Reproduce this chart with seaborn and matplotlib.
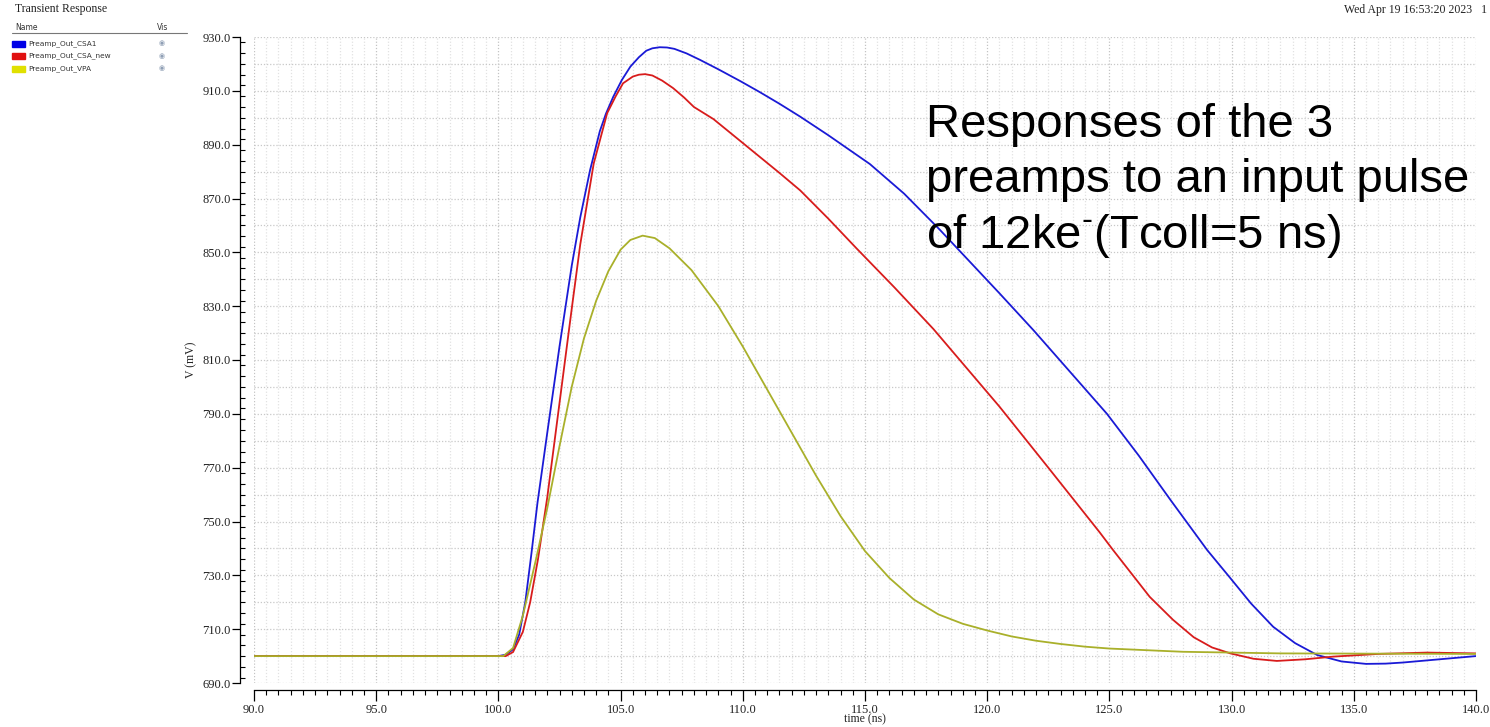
import numpy as np
import pandas as pd
import matplotlib
matplotlib.use("Agg")
import matplotlib.pyplot as plt
from matplotlib.ticker import MultipleLocator, FormatStrFormatter
from matplotlib.patches import Rectangle
import seaborn as sns

# ---------------- data ----------------
series_names = ["Preamp_Out_CSA1", "Preamp_Out_CSA_new", "Preamp_Out_VPA"]

t_csa1 = [90, 100.0, 100.3, 100.6, 100.85, 101.1, 101.35, 101.6, 102.0, 102.5, 103.0,
          103.35, 103.75, 104.15, 104.4, 104.7, 105.05, 105.4, 105.75, 106.05, 106.3,
          106.6, 106.9, 107.2, 107.7, 108.25, 109.0, 109.9, 110.7, 111.5, 112.35,
          113.5, 115.2, 116.6, 118.05, 120.5, 121.9, 123.4, 124.9, 126.2, 127.5, 129.0,
          129.9, 130.8, 131.7, 132.6, 133.5, 134.5, 135.5, 136.3, 137.0, 138.5, 140.0]
v_csa1 = [700, 700, 700.5, 702.5, 708, 720, 738, 757, 783, 815, 845,
          863, 880.5, 895, 901.5, 907.8, 914, 919, 922.5, 924.9, 925.8,
          926.2, 926.1, 925.6, 923.9, 921.5, 918.0, 913.6, 909.5, 905.2, 900.4,
          893.5, 882.8, 871.8, 858.5, 834.8, 821, 805.5, 790, 774.5, 758, 739.4,
          729.5, 719.5, 710.9, 704.8, 700.4, 698, 697.1, 697.2, 697.6, 698.8, 700]

t_csa_new = [90, 100.3, 100.6, 101.0, 101.3, 101.62, 102.0, 102.5, 103.0, 103.35, 103.9,
             104.45, 104.8, 105.1, 105.5, 105.75, 106.0, 106.3, 106.7, 107.15, 107.6,
             108.0, 108.8, 110.15, 111.5, 112.35, 113.5, 114.65, 116.2, 117.8, 120.5,
             122.5, 124.6, 125.15, 126.65, 127.6, 128.45, 129.2, 129.95, 130.9, 131.85,
             133.0, 134.15, 136.0, 138.0, 140.0]
v_csa_new = [700, 700, 701.5, 709, 720, 736, 759, 794, 829, 853, 883,
             901.7, 908, 912.8, 915.3, 916, 916.2, 915.7, 913.8, 911, 907.5,
             904, 899.5, 889.5, 879.5, 873, 862.5, 851.5, 837, 821.5, 792.7,
             770, 746, 739.4, 722, 713.5, 707, 703.2, 701, 699, 698.2,
             698.8, 699.8, 700.8, 701.3, 701]

t_vpa = [90, 100.2, 100.6, 101.0, 101.54, 102.0, 102.5, 103.0, 103.5, 104.0, 104.5,
         105.0, 105.4, 105.9, 106.4, 107.0, 107.9, 109, 110, 111, 112, 113, 114, 115,
         116, 117, 118, 119, 120, 121, 122, 123, 124, 125, 128, 132, 136, 140]
v_vpa = [700, 700, 703, 715, 736, 755, 778, 800, 818, 832, 843,
         851, 854.6, 856.2, 855.3, 851.5, 843.4, 830, 815, 799, 783, 767, 752, 739,
         729, 721, 715.5, 712, 709.5, 707.3, 705.7, 704.5, 703.5, 702.8, 701.6, 701,
         700.9, 700.8]

line_colors = ["#1a1ad6", "#d81c1c", "#a9b02a"]
swatch_colors = ["#0000e6", "#e01010", "#e0e000"]

x_ticks = [90.0, 95.0, 100.0, 105.0, 110.0, 115.0, 120.0, 125.0, 130.0, 135.0, 140.0]
y_ticks = [690.0, 710.0, 730.0, 750.0, 770.0, 790.0, 810.0, 830.0, 850.0, 870.0, 890.0, 910.0, 930.0]

df = pd.concat([
    pd.DataFrame({"time": t_csa1, "V": v_csa1, "signal": series_names[0]}),
    pd.DataFrame({"time": t_csa_new, "V": v_csa_new, "signal": series_names[1]}),
    pd.DataFrame({"time": t_vpa, "V": v_vpa, "signal": series_names[2]}),
])

# ---------------- figure ----------------
sns.set_theme(style="white")
plt.rcParams["font.family"] = ["Liberation Serif", "DejaVu Serif"]
plt.rcParams["mathtext.fontset"] = "custom"
plt.rcParams["mathtext.rm"] = "Liberation Sans"
plt.rcParams["mathtext.sf"] = "Liberation Sans"

W, H = 1490, 727
fig = plt.figure(figsize=(W / 100, H / 100), dpi=100)
fig.patch.set_facecolor("white")

L, R, T, B = 254, 1476, 37, 683
ax = fig.add_axes([L / W, 1 - B / H, (R - L) / W, (B - T) / H])
ax.set_facecolor("white")

ax.set_xlim(90, 140)
ax.set_ylim(690, 930)
ax.xaxis.set_minor_locator(MultipleLocator(0.5))
ax.yaxis.set_minor_locator(MultipleLocator(4))
ax.set_xticks(x_ticks)
ax.set_yticks(y_ticks)
ax.xaxis.set_major_formatter(FormatStrFormatter("%.1f"))
ax.yaxis.set_major_formatter(FormatStrFormatter("%.1f"))

# dotted grid
ax.grid(False)
for xv in np.arange(90, 140.01, 0.5):
    major = abs(xv / 5 - round(xv / 5)) < 1e-9
    ax.axvline(xv, color="#c4c4c4" if major else "#e2e2e2", lw=0.9, ls=(0, (1, 1.5)), zorder=0)
for yv in np.arange(690, 930.01, 10):
    ax.axhline(yv, color="#c8c8c8", lw=0.9, ls=(0, (1, 1.5)), zorder=0)

sns.lineplot(data=df, x="time", y="V", hue="signal", hue_order=series_names,
             palette=line_colors, estimator=None, sort=False, lw=1.3,
             legend=False, ax=ax, zorder=3)
for ln in ax.get_lines()[-3:]:
    ln.set_solid_joinstyle("round")

# spines / ticks
for s in ["top", "right"]:
    ax.spines[s].set_visible(False)
ax.spines["left"].set_position(("outward", 10))
ax.spines["bottom"].set_position(("outward", 5))
for s in ["left", "bottom"]:
    ax.spines[s].set_color("black")
    ax.spines[s].set_linewidth(0.9)
ax.tick_params(axis="both", which="both", bottom=True, left=True, top=False, right=False)
ax.tick_params(axis="both", which="major", direction="out", length=6, width=0.9,
               color="black", labelsize=9, labelcolor="#222222", pad=1)
ax.tick_params(axis="x", which="minor", direction="out", length=3.5, width=0.8, color="black")
ax.tick_params(axis="y", which="minor", direction="in", length=3.5, width=0.8, color="black")
ax.tick_params(axis="x", which="major", length=8, pad=2)
ax.set_xlabel("time (ns)", fontsize=8.5, labelpad=-2, color="#222222")
ax.set_ylabel("V (mV)", fontsize=8.5, labelpad=3, color="#222222")

# annotation
lines_txt = ["Responses of the 3", "preamps to an input pulse",
             "of 12ke$^{\\mathsf{\u2010}}$(Tcoll=5 ns)"]
for txt, yb in zip(lines_txt, [137, 192.5, 248]):
    fig.text(926 / W, 1 - yb / H, txt, fontsize=34, family="Liberation Sans",
             color="black", va="baseline", ha="left", zorder=5)

# header / legend panel
fig.text(15 / W, 1 - 9 / H, "Transient Response", fontsize=8.5, color="#222222", va="center")
fig.text(1487 / W, 1 - 10 / H, "Wed Apr 19 16:53:20 2023   1", fontsize=8.5,
         color="#222222", va="center", ha="right")
fig.text(15 / W, 1 - 27 / H, "Name", fontsize=5.5, family="DejaVu Sans", color="#333333", va="center")
fig.text(157 / W, 1 - 27 / H, "Vis", fontsize=5.5, family="DejaVu Sans", color="#333333", va="center")
fig.add_artist(plt.Line2D([12 / W, 187 / W], [1 - 33 / H, 1 - 33 / H], color="#777777", lw=0.8))
row_y = [43.5, 56, 68.5]
for name, c, yy in zip(series_names, swatch_colors, row_y):
    fig.add_artist(Rectangle((12 / W, 1 - (yy + 3) / H), 13 / W, 6 / H, color=c,
                             transform=fig.transFigure))
    fig.text(28 / W, 1 - yy / H, name, fontsize=5.3, family="DejaVu Sans",
             color="#333333", va="center")
    fig.text(162 / W, 1 - yy / H, "\u25c9", fontsize=5, family="DejaVu Sans",
             color="#8f9fb5", va="center", ha="center")

fig.savefig("out.png", dpi=100, facecolor="white")
